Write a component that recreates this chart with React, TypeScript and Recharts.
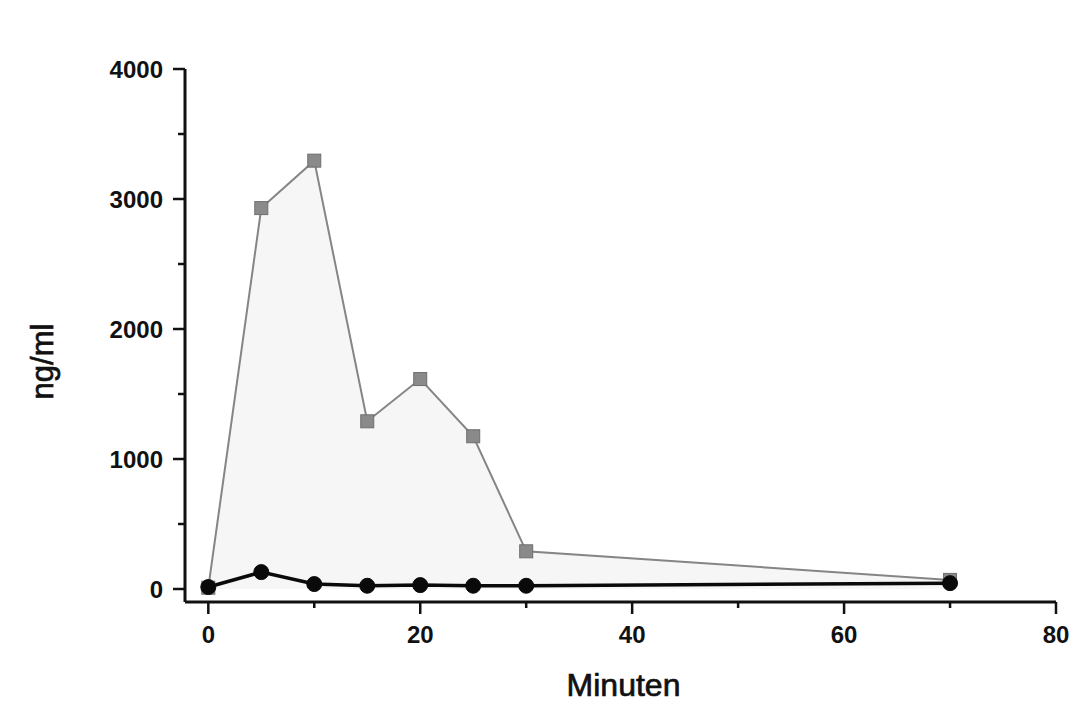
import React from 'react';
import { ComposedChart, Area, Line, XAxis, YAxis, Label } from 'recharts';

const minutes = [0, 5, 10, 15, 20, 25, 30, 70];
const squareSeries = [10, 2930, 3295, 1290, 1615, 1175, 290, 70];
const circleSeries = [15, 130, 38, 25, 30, 25, 25, 45];

const xTicks = [0, 10, 20, 30, 40, 50, 60, 70, 80];
const xMajor = [0, 20, 40, 60, 80];
const yTicks = [0, 500, 1000, 1500, 2000, 2500, 3000, 3500, 4000];
const yMajor = [0, 1000, 2000, 3000, 4000];

const data = minutes.map((m, i) => ({ m, sq: squareSeries[i], ci: circleSeries[i] }));

const FONT = '"Liberation Sans", Arial, sans-serif';

const XTick = (props: any) => {
  const { x, y, payload } = props;
  const major = xMajor.includes(payload.value);
  return (
    <g>
      <line x1={x} x2={x} y1={y} y2={y + (major ? 12 : 6)} stroke="#111" strokeWidth={2.5} />
      {major && (
        <text x={x} y={y + 32} textAnchor="middle" dominantBaseline="central"
          fontFamily={FONT} fontWeight="bold" fontSize={24} fill="#111">
          {payload.value}
        </text>
      )}
    </g>
  );
};

const YTick = (props: any) => {
  const { x, y, payload } = props;
  const major = yMajor.includes(payload.value);
  return (
    <g>
      <line x1={x - (major ? 12 : 7)} x2={x} y1={y} y2={y} stroke="#111" strokeWidth={2.5} />
      {major && (
        <text x={x - 22} y={y} textAnchor="end" dominantBaseline="central"
          fontFamily={FONT} fontWeight="bold" fontSize={24} fill="#111">
          {payload.value}
        </text>
      )}
    </g>
  );
};

const SquareDot = (props: any) => {
  const { cx, cy, index } = props;
  if (cx == null || cy == null) return <g key={`sq-${index}`} />;
  return (
    <rect key={`sq-${index}`} x={cx - 6.5} y={cy - 6.5} width={13} height={13}
      fill="#8a8a8a" stroke="#6e6e6e" strokeWidth={1} />
  );
};

export default function App() {
  return (
    <div style={{ width: 1090, height: 716, background: '#fff' }}>
      <style>{'body{margin:0;background:#fff}'}</style>
      <ComposedChart width={1090} height={716} data={data}
        margin={{ top: 69, right: 34, bottom: 14, left: 105 }}>
        <XAxis dataKey="m" type="number" domain={[-2.2, 80]} ticks={xTicks} interval={0}
          allowDataOverflow tickSize={0} tickMargin={0} tick={<XTick />} tickLine={false}
          height={100} axisLine={{ stroke: '#111', strokeWidth: 3 }}>
          <Label content={(p: any) => (
            <text x={p.viewBox.x + p.viewBox.width / 2 + 3} y={p.viewBox.y + 83}
              textAnchor="middle" dominantBaseline="central" stroke="#111" strokeWidth={0.7}
              fontFamily={FONT} fontSize={32} fill="#111">Minuten</text>
          )} />
        </XAxis>
        <YAxis type="number" domain={[-100, 4000]} ticks={yTicks} interval={0}
          allowDataOverflow tickSize={0} tickMargin={0} tick={<YTick />} tickLine={false}
          width={80} axisLine={{ stroke: '#111', strokeWidth: 3 }}>
          <Label content={(p: any) => (
            <text x={42} y={p.viewBox.y + p.viewBox.height / 2 + 26}
              textAnchor="middle" dominantBaseline="central" stroke="#111" strokeWidth={0.7}
              transform={`rotate(-90 42 ${p.viewBox.y + p.viewBox.height / 2 + 26})`}
              fontFamily={FONT} fontSize={31} fill="#111">ng/ml</text>
          )} />
        </YAxis>
        <Area dataKey="sq" type="linear" fill="#f6f6f6" fillOpacity={1}
          stroke="#858585" strokeWidth={2} dot={SquareDot} activeDot={false}
          isAnimationActive={false} />
        <Line dataKey="ci" type="linear" stroke="#0a0a0a" strokeWidth={3.5}
          dot={{ r: 7.5, fill: '#0a0a0a', stroke: '#0a0a0a', strokeWidth: 1 }}
          activeDot={false} isAnimationActive={false} />
      </ComposedChart>
    </div>
  );
}
